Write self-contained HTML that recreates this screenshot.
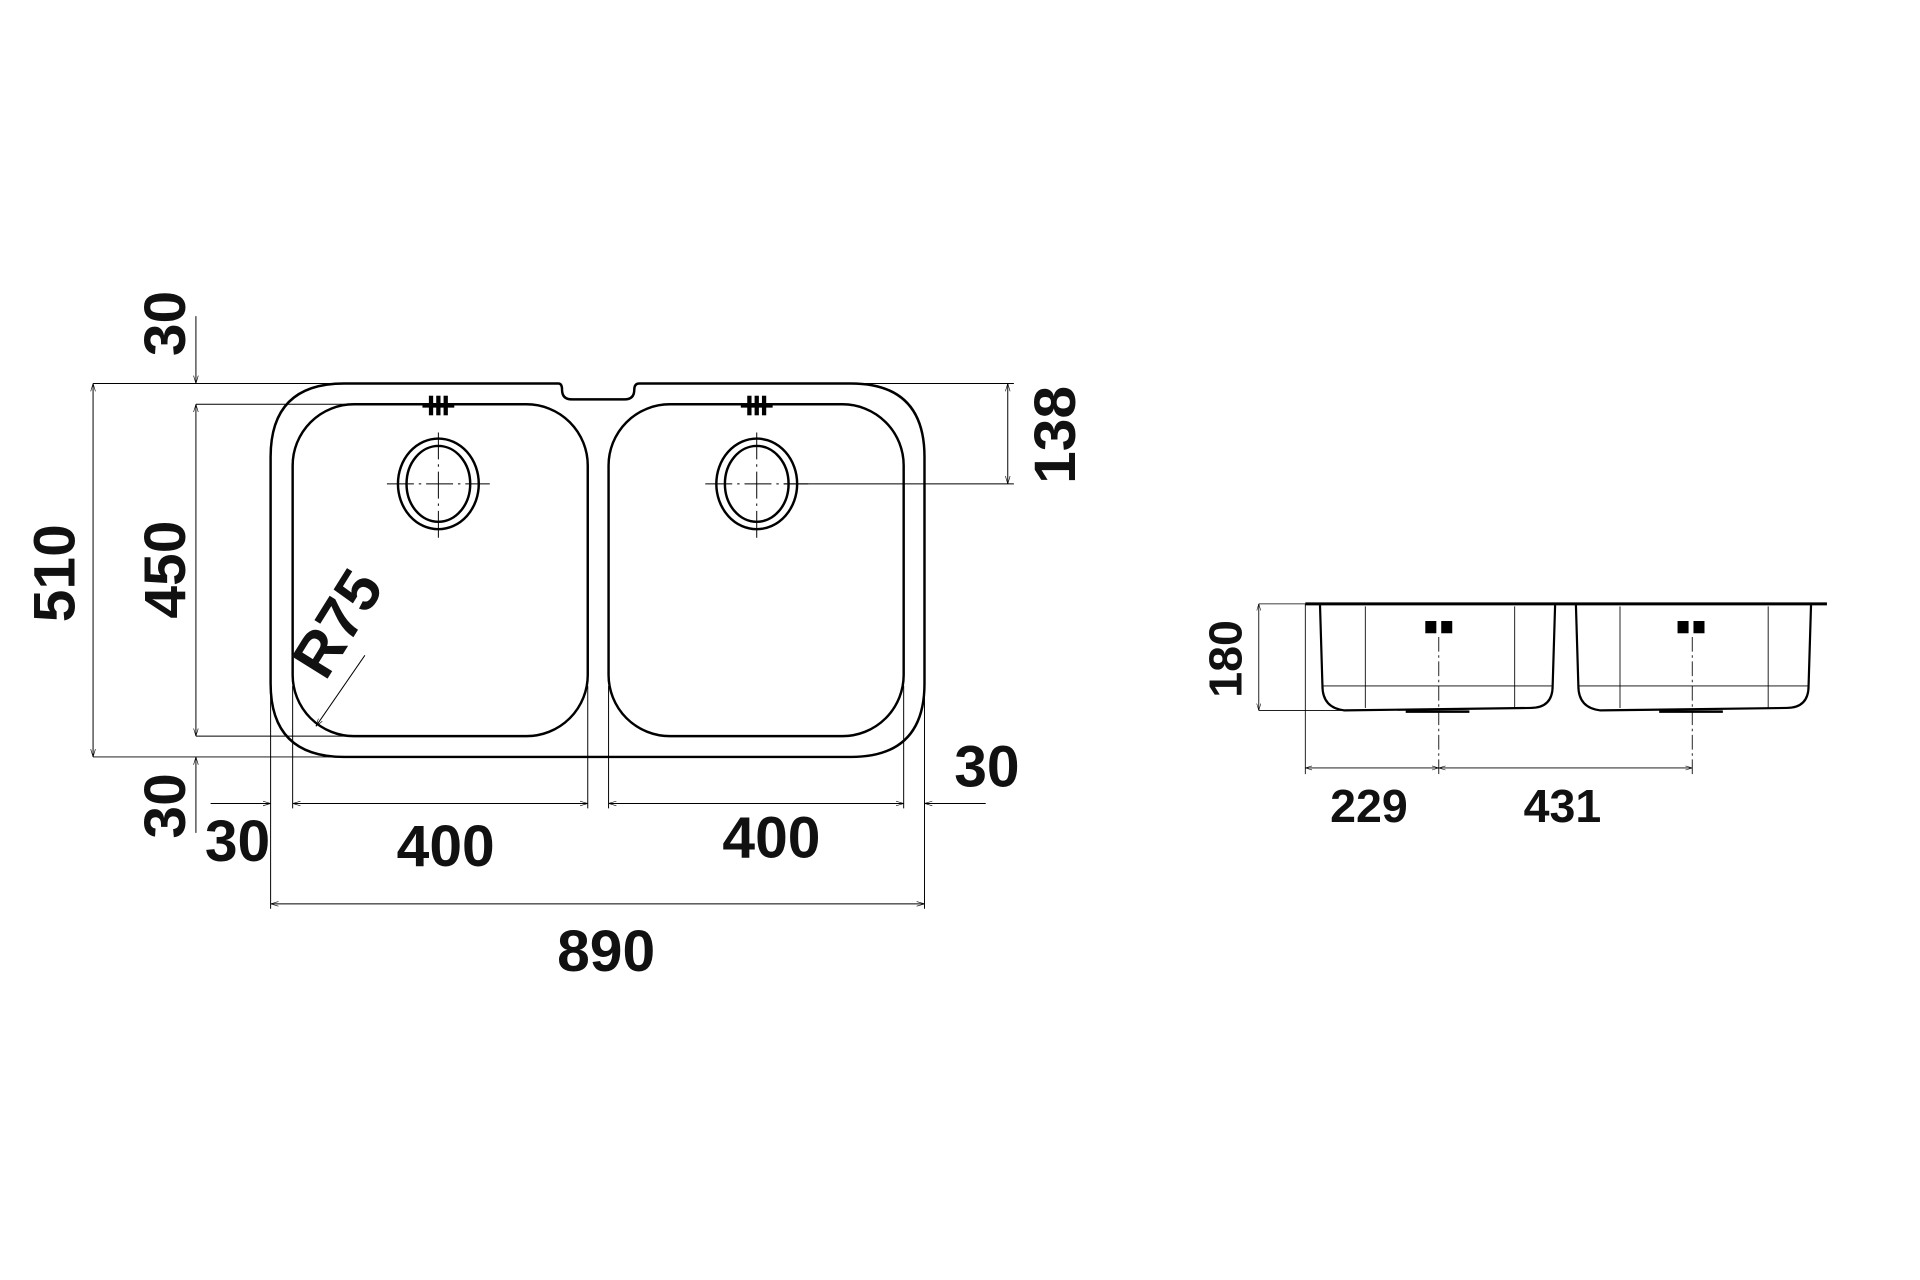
<!DOCTYPE html>
<html><head><meta charset="utf-8"><style>html,body{margin:0;padding:0;background:#fff}svg{display:block}</style></head>
<body>
<svg width="1920" height="1280" viewBox="0 0 1568 1045" xmlns="http://www.w3.org/2000/svg" font-family="Liberation Sans, sans-serif" font-weight="bold" fill="none" stroke="#000">
<defs>
<marker id="a" viewBox="0 0 10 10" refX="10" refY="5" markerWidth="8" markerHeight="8" orient="auto-start-reverse"><path d="M0,2 L10,5 L0,8" stroke="#000" stroke-width="0.8" fill="none"/></marker>
</defs>
<path d="M281,313 L456,313 Q459,313 459,318 Q459,326 467,326 L510,326 Q518,326 518,318 Q518,313 522,313 L695,313 Q755,313 755,373 L755,558 Q755,618 695,618 L281,618 Q221,618 221,558 L221,373 Q221,313 281,313 Z" stroke-width="2"/>
<rect x="239" y="330" width="241" height="271" rx="50" ry="50" stroke-width="2"/>
<rect x="497" y="330" width="241" height="271" rx="50" ry="50" stroke-width="2"/>
<g stroke-width="3.5"><line x1="345" y1="331" x2="371" y2="331"/><line x1="352" y1="323" x2="352" y2="339"/><line x1="358" y1="323" x2="358" y2="339"/><line x1="364" y1="323" x2="364" y2="339"/>
<line x1="605" y1="331" x2="631" y2="331"/><line x1="612" y1="323" x2="612" y2="339"/><line x1="618" y1="323" x2="618" y2="339"/><line x1="624" y1="323" x2="624" y2="339"/></g>
<g stroke-width="2"><ellipse cx="358" cy="395" rx="33" ry="37"/><ellipse cx="358" cy="395" rx="26" ry="31"/><ellipse cx="618" cy="395" rx="33" ry="37"/><ellipse cx="618" cy="395" rx="26" ry="31"/></g>
<g stroke-width="0.8" stroke-dasharray="22,4,2,4"><line x1="316" y1="395" x2="400" y2="395"/><line x1="358" y1="353" x2="358" y2="441"/><line x1="576" y1="395" x2="660" y2="395"/><line x1="618" y1="353" x2="618" y2="441"/></g>
<g stroke-width="0.8">
<line x1="76" y1="313" x2="285" y2="313"/><line x1="76" y1="618" x2="285" y2="618"/>
<line x1="160" y1="330" x2="300" y2="330"/><line x1="160" y1="601" x2="290" y2="601"/>
<line x1="690" y1="313" x2="828" y2="313"/><line x1="640" y1="395" x2="828" y2="395"/>
<line x1="221" y1="560" x2="221" y2="742"/><line x1="755" y1="560" x2="755" y2="742"/>
<line x1="239" y1="560" x2="239" y2="660"/><line x1="480" y1="560" x2="480" y2="660"/>
<line x1="497" y1="560" x2="497" y2="660"/><line x1="738" y1="560" x2="738" y2="660"/>
<line x1="160" y1="258" x2="160" y2="313" marker-end="url(#a)"/>
<line x1="160" y1="680" x2="160" y2="618" marker-end="url(#a)"/>
<line x1="76" y1="313" x2="76" y2="618" marker-start="url(#a)" marker-end="url(#a)"/>
<line x1="160" y1="330" x2="160" y2="601" marker-start="url(#a)" marker-end="url(#a)"/>
<line x1="823" y1="313" x2="823" y2="395" marker-start="url(#a)" marker-end="url(#a)"/>
<line x1="239" y1="656" x2="480" y2="656" marker-start="url(#a)" marker-end="url(#a)"/>
<line x1="497" y1="656" x2="738" y2="656" marker-start="url(#a)" marker-end="url(#a)"/>
<line x1="172" y1="656" x2="221" y2="656" marker-end="url(#a)"/>
<line x1="805" y1="656" x2="755" y2="656" marker-end="url(#a)"/>
<line x1="221" y1="738" x2="755" y2="738" marker-start="url(#a)" marker-end="url(#a)"/>
<line x1="298" y1="535" x2="258" y2="593" marker-end="url(#a)"/>
</g>
<g fill="#111" stroke="none" font-size="48">
<text transform="translate(61,468) rotate(-90)" text-anchor="middle">510</text>
<text transform="translate(151,465) rotate(-90)" text-anchor="middle">450</text>
<text transform="translate(151,264) rotate(-90)" text-anchor="middle">30</text>
<text transform="translate(151,658) rotate(-90)" text-anchor="middle">30</text>
<text transform="translate(878,355) rotate(-90)" text-anchor="middle">138</text>
<text x="194" y="703" text-anchor="middle">30</text>
<text x="364" y="707" text-anchor="middle">400</text>
<text x="630" y="700" text-anchor="middle">400</text>
<text x="806" y="642" text-anchor="middle">30</text>
<text x="495" y="793" text-anchor="middle">890</text>
<text transform="translate(290,518) rotate(-58)" text-anchor="middle" font-size="50">R75</text>
</g>
<line x1="1066" y1="493" x2="1492" y2="493" stroke-width="2.5"/>
<path d="M1078,494 L1080,560 Q1080,578 1098,580 L1250,578 Q1268,578 1268,560 L1270,494" stroke-width="1.8"/>
<path d="M1287,494 L1289,560 Q1289,578 1307,580 L1459,578 Q1477,578 1477,560 L1479,494" stroke-width="1.8"/>
<g stroke-width="0.7">
<line x1="1080" y1="560" x2="1268" y2="560"/><line x1="1289" y1="560" x2="1477" y2="560"/>
<line x1="1115" y1="495" x2="1115" y2="578"/><line x1="1237" y1="495" x2="1237" y2="578"/>
<line x1="1323" y1="495" x2="1323" y2="578"/><line x1="1444" y1="495" x2="1444" y2="578"/>
<line x1="1028" y1="493" x2="1080" y2="493"/><line x1="1028" y1="580" x2="1100" y2="580"/>
<line x1="1028" y1="493" x2="1028" y2="580" marker-start="url(#a)" marker-end="url(#a)"/>
<line x1="1066" y1="493" x2="1066" y2="632"/><line x1="1382" y1="520" x2="1382" y2="632" stroke-dasharray="12,3,2,3"/>
<line x1="1175" y1="520" x2="1175" y2="632" stroke-dasharray="12,3,2,3"/>
<line x1="1066" y1="627" x2="1175" y2="627" marker-start="url(#a)" marker-end="url(#a)"/>
<line x1="1175" y1="627" x2="1382" y2="627" marker-start="url(#a)" marker-end="url(#a)"/>
</g>
<g stroke-width="2"><line x1="1148" y1="581" x2="1200" y2="581"/><line x1="1355" y1="581" x2="1407" y2="581"/></g>
<g fill="#000" stroke="none">
<rect x="1164" y="507" width="9" height="10"/><rect x="1177" y="507" width="9" height="10"/>
<rect x="1370" y="507" width="9" height="10"/><rect x="1383" y="507" width="9" height="10"/>
</g>
<g fill="#111" stroke="none" font-size="38">
<text transform="translate(1014,538) rotate(-90)" text-anchor="middle">180</text>
<text x="1118" y="671" text-anchor="middle">229</text>
<text x="1276" y="671" text-anchor="middle">431</text>
</g>
</svg>
</body></html>
